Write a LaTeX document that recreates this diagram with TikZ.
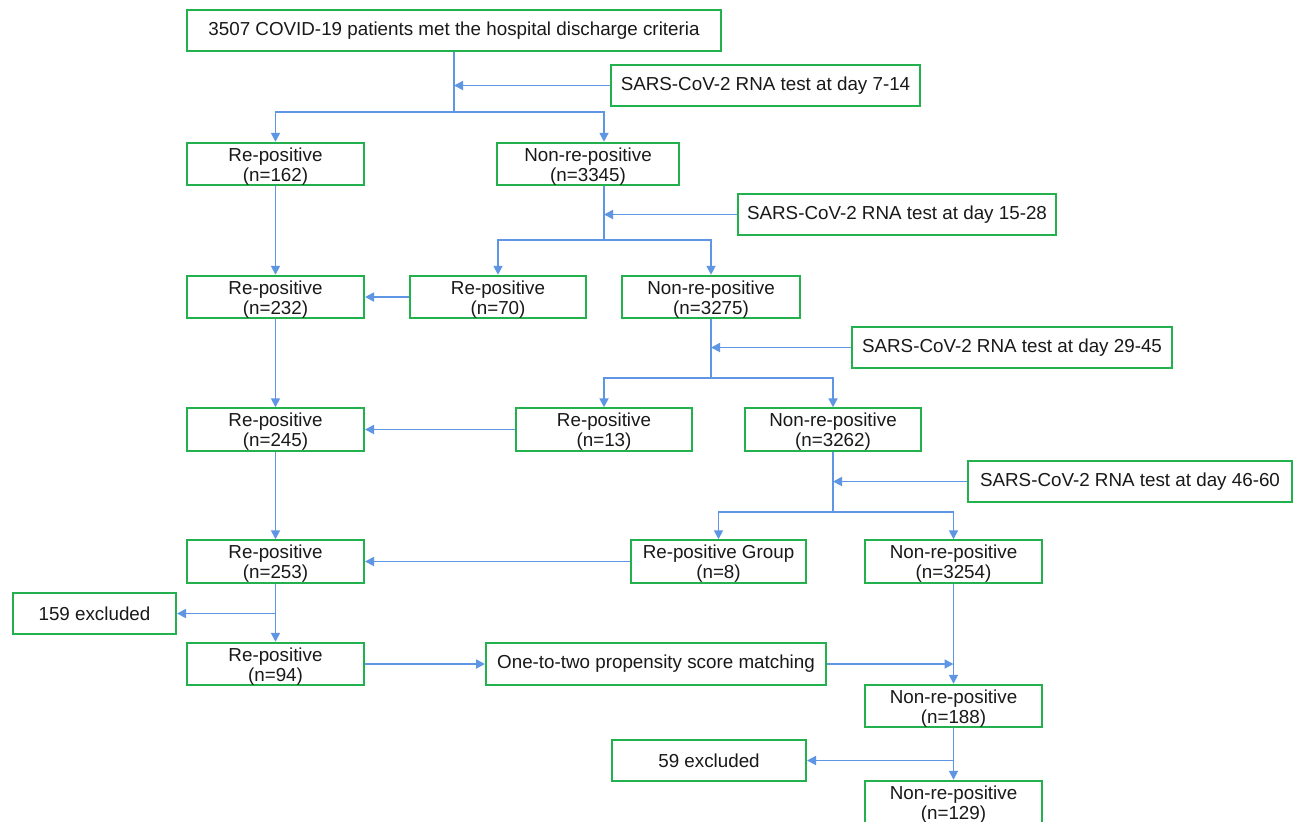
\documentclass[tikz,border=0pt]{standalone}
\usepackage{fontspec}
\setmainfont{Liberation Sans}
\usetikzlibrary{arrows.meta}
\definecolor{boxgreen}{RGB}{34,177,76}
\definecolor{lineblue}{RGB}{95,150,228}
\newcommand{\st}{\rule{0pt}{9.3pt}}
\begin{document}
\begin{tikzpicture}[x=0.5pt,y=-0.5pt,
  box/.style={draw=boxgreen,line width=1pt,fill=white,inner sep=0pt,align=center,
    font=\fontsize{9.4}{10}\selectfont,text=black!90},
  arr/.style={draw=lineblue,line width=0.9pt,-{Triangle[length=4.5pt,width=4.5pt]}},
  ln/.style={draw=lineblue,line width=0.9pt}]
\useasboundingbox (0,0) rectangle (1295,821);
\fill[white] (0,0) rectangle (1295,821);
% boxes
\node[box,minimum width=267pt,minimum height=20.5pt] (top) at (454,30.5) {3507 COVID-19 patients met the hospital discharge criteria};
\node[box,minimum width=154.5pt,minimum height=20.5pt] (t1) at (765.5,85.5) {SARS-CoV-2 RNA test at day 7-14};
\node[box,minimum width=88.5pt,minimum height=21pt] (r162) at (275.5,164) {\st Re-positive\\(n=162)};
\node[box,minimum width=91pt,minimum height=21pt] (n3345) at (588,164) {\st Non-re-positive\\(n=3345)};
\node[box,minimum width=159pt,minimum height=20.5pt] (t2) at (897,214.5) {SARS-CoV-2 RNA test at day 15-28};
\node[box,minimum width=88.5pt,minimum height=21pt] (r232) at (275.5,297) {\st Re-positive\\(n=232)};
\node[box,minimum width=88pt,minimum height=21pt] (r70) at (498,297) {\st Re-positive\\(n=70)};
\node[box,minimum width=89pt,minimum height=21pt] (n3275) at (711,297) {\st Non-re-positive\\(n=3275)};
\node[box,minimum width=160pt,minimum height=20.5pt] (t3) at (1012,347.5) {SARS-CoV-2 RNA test at day 29-45};
\node[box,minimum width=88.5pt,minimum height=20.5pt] (r245) at (275.5,429.5) {\st Re-positive\\(n=245)};
\node[box,minimum width=88pt,minimum height=20.5pt] (r13) at (604,429.5) {\st Re-positive\\(n=13)};
\node[box,minimum width=88pt,minimum height=20.5pt] (n3262) at (833,429.5) {\st Non-re-positive\\(n=3262)};
\node[box,minimum width=162pt,minimum height=20.5pt] (t4) at (1130,481.5) {SARS-CoV-2 RNA test at day 46-60};
\node[box,minimum width=88.5pt,minimum height=20.5pt] (r253) at (275.5,561.5) {\st Re-positive\\(n=253)};
\node[box,minimum width=87.5pt,minimum height=20.5pt] (g8) at (718.5,561.5) {\st Re-positive Group\\(n=8)};
\node[box,minimum width=88.5pt,minimum height=20.5pt] (n3254) at (953.5,561.5) {\st Non-re-positive\\(n=3254)};
\node[box,minimum width=81.5pt,minimum height=20.5pt] (ex159) at (94.5,613.5) {159 excluded};
\node[box,minimum width=88.5pt,minimum height=20.5pt] (r94) at (275.5,664) {\st Re-positive\\(n=94)};
\node[box,minimum width=170pt,minimum height=21pt] (ps) at (656,664) {One-to-two propensity score matching};
\node[box,minimum width=88.5pt,minimum height=21pt] (n188) at (953.5,706) {\st Non-re-positive\\(n=188)};
\node[box,minimum width=97pt,minimum height=20.5pt] (ex59) at (709,760.5) {59 excluded};
\node[box,minimum width=88.5pt,minimum height=21pt] (n129) at (953.5,802) {\st Non-re-positive\\(n=129)};
% junctions
\coordinate (j1) at (454,112);
\coordinate (j2) at (604,240);
\coordinate (j3) at (711,378);
\coordinate (j4) at (833,512);
\coordinate (j5) at (r253.south |- ex159.east);
\coordinate (j6) at (n188.south |- ex59.east);
% stage 1
\draw[ln] (top.south) -- (j1);
\draw[arr] (t1.west) -- (t1.west -| j1);
\draw[arr] (j1) -| (r162.north);
\draw[arr] (j1) -| ([xshift=8pt]n3345.north);
% stage 2
\draw[ln] ([xshift=8pt]n3345.south) -- (j2);
\draw[arr] (t2.west) -- (t2.west -| j2);
\draw[arr] (j2) -| (r70.north);
\draw[arr] (j2) -| (n3275.north);
\draw[arr] (r162.south) -- (r232.north);
\draw[arr] (r70.west) -- (r232.east);
% stage 3
\draw[ln] (n3275.south) -- (j3);
\draw[arr] (t3.west) -- (t3.west -| j3);
\draw[arr] (j3) -| (r13.north);
\draw[arr] (j3) -| (n3262.north);
\draw[arr] (r232.south) -- (r245.north);
\draw[arr] (r13.west) -- (r245.east);
% stage 4
\draw[ln] (n3262.south) -- (j4);
\draw[arr] (t4.west) -- (t4.west -| j4);
\draw[arr] (j4) -| (g8.north);
\draw[arr] (j4) -| (n3254.north);
\draw[arr] (r245.south) -- (r253.north);
\draw[arr] (g8.west) -- (r253.east);
% matching
\draw[arr] (r253.south) -- (r94.north);
\draw[arr] (j5) -- (ex159.east);
\draw[arr] (r94.east) -- (ps.west);
\draw[arr] (ps.east) -- (ps.east -| n3254.south);
\draw[arr] (n3254.south) -- (n188.north);
\draw[arr] (n188.south) -- (n129.north);
\draw[arr] (j6) -- (ex59.east);
\end{tikzpicture}
\end{document}
